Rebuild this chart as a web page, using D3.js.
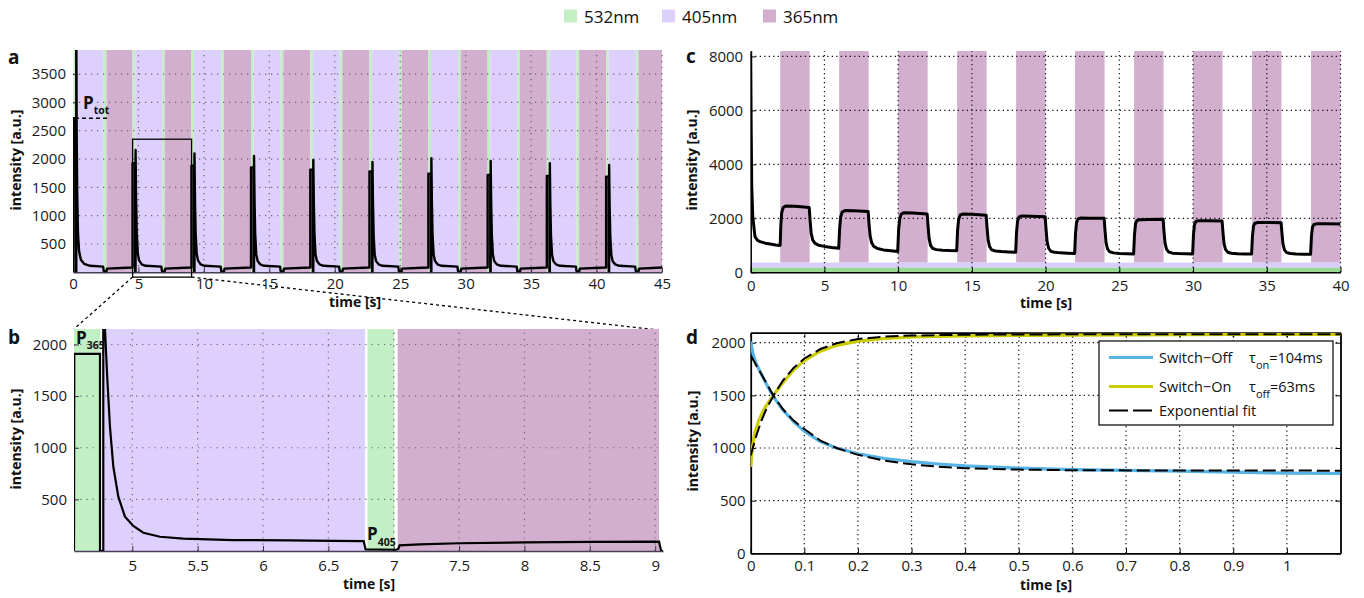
<!DOCTYPE html>
<html>
<head>
<meta charset="utf-8">
<script src="https://cdn.jsdelivr.net/npm/d3@7"></script>
<style>
  body { margin: 0; background: #fff; }
  svg text { font-family: "Open Sans", "Noto Sans", sans-serif; }
</style>
</head>
<body>
<svg id="fig" width="1364" height="598"></svg>
<script>
// ---------- data ----------
const legendLabels = ["532nm", "405nm", "365nm"];
const legendKeys = [532, 405, 365];
const bandColor = { 532: "#c2efc4", 405: "#ddd0fd", 365: "#d3afcf" };

// panel a: start of each 532nm read-out pulse; the phases in between alternate 405 / 365
const aGreenStarts = [0.03, 2.35, 4.55, 6.8, 9.05, 11.33, 13.6, 15.87, 18.13, 20.38,
                      22.65, 24.9, 27.15, 29.42, 31.68, 33.95, 36.2, 38.47, 40.73, 43.0];
const aGreenLen = 0.2;
const aXTicks = [0, 5, 10, 15, 20, 25, 30, 35, 40, 45];
const aYTicks = [500, 1000, 1500, 2000, 2500, 3000, 3500];
const aTrace = [
  [0,0],[0.02,2720],[0.2,2720],[0.2,0],[0.25,0],[0.25,4300],[0.28,2500],[0.32,1400],[0.38,700],[0.46,380],[0.6,220],[0.85,150],[1.3,115],[2.3,100],[2.35,15],[2.55,15],[2.6,65],[4.5,85],
  [4.55,85],[4.55,1925],[4.75,1925],[4.75,0],[4.78,0],[4.78,2160],[4.82,1300],[4.87,700],[4.95,330],[5.05,210],[5.25,140],[5.55,115],[6.75,100],[6.8,15],[7.0,15],[7.05,65],[9.0,85],
  [9.05,85],[9.05,1880],[9.25,1880],[9.25,0],[9.28,0],[9.28,2100],[9.32,1280],[9.37,690],[9.45,330],[9.55,210],[9.75,140],[10.05,115],[11.28,100],[11.33,15],[11.53,15],[11.58,65],[13.55,85],
  [13.6,85],[13.6,1850],[13.8,1850],[13.8,0],[13.83,0],[13.83,2055],[13.87,1250],[13.92,680],[14.0,320],[14.1,205],[14.3,140],[14.6,115],[15.82,100],[15.87,15],[16.07,15],[16.12,65],[18.08,85],
  [18.13,85],[18.13,1810],[18.33,1810],[18.33,0],[18.36,0],[18.36,1985],[18.4,1220],[18.45,660],[18.53,320],[18.63,205],[18.83,140],[19.13,115],[20.33,100],[20.38,15],[20.58,15],[20.63,65],[22.6,85],
  [22.65,85],[22.65,1780],[22.85,1780],[22.85,0],[22.88,0],[22.88,1950],[22.92,1200],[22.97,650],[23.05,315],[23.15,200],[23.35,140],[23.65,115],[24.85,100],[24.9,15],[25.1,15],[25.15,65],[27.1,85],
  [27.15,85],[27.15,1740],[27.35,1740],[27.35,0],[27.38,0],[27.38,2015],[27.42,1230],[27.47,670],[27.55,320],[27.65,205],[27.85,140],[28.15,115],[29.37,100],[29.42,15],[29.62,15],[29.67,65],[31.63,85],
  [31.68,85],[31.68,1720],[31.88,1720],[31.88,0],[31.91,0],[31.91,1965],[31.95,1200],[32.0,655],[32.08,315],[32.18,200],[32.38,140],[32.68,115],[33.9,100],[33.95,15],[34.15,15],[34.2,65],[36.15,85],
  [36.2,85],[36.2,1700],[36.4,1700],[36.4,0],[36.43,0],[36.43,1925],[36.47,1180],[36.52,640],[36.6,310],[36.7,200],[36.9,140],[37.2,115],[38.42,100],[38.47,15],[38.67,15],[38.72,65],[40.68,85],
  [40.73,85],[40.73,1690],[40.93,1690],[40.93,0],[40.96,0],[40.96,1895],[41.0,1160],[41.05,630],[41.13,305],[41.23,195],[41.43,140],[41.73,115],[42.95,100],[43.0,15],[43.2,15],[43.25,65],[45,85]
];
const aPtot = 2720;
const aPtotSpan = [0.15, 2.65];
const zoomTime = [4.554, 9.06];
const zoomIntensity = [-85, 2350];

// panel b: zoom on one cycle
const bBands = [[4.554, 4.755, 532], [4.775, 6.78, 405], [6.80, 7.005, 532], [7.03, 9.03, 365]];
const bXTicks = [5, 5.5, 6, 6.5, 7, 7.5, 8, 8.5, 9];
const bYTicks = [500, 1000, 1500, 2000];
const bTrace = [
  [4.554,0],[4.556,1910],[4.753,1910],[4.753,0],[4.778,0],[4.778,2400],[4.791,2150],[4.808,1687],
  [4.829,1203],[4.855,816],[4.893,526],[4.944,332],[5.008,242],[5.084,177],[5.212,138],[5.39,119],
  [5.77,106],[6.2,102],[6.54,98],[6.77,95],[6.785,16],[7.02,12],[7.035,20],[7.045,55],[7.2,65],
  [7.5,75],[8.0,84],[8.5,89],[9.03,90],[9.045,0],[9.07,0]
];

// panel c: 365nm pulses on top of continuous 405 / 532
const cUvStarts = [2, 6, 10, 14, 18, 22, 26, 30, 34, 38];
const cUvLen = 2;
const cStrips = [[0, 180, 532], [180, 360, 405]];
const cXTicks = [0, 5, 10, 15, 20, 25, 30, 35, 40];
const cYTicks = [0, 2000, 4000, 6000, 8000];
const cTrace = [
  [0,8200],[0.03,5500],[0.07,3200],[0.14,2060],[0.29,1320],[0.45,1190],[0.63,1135],[1.0,1080],[1.31,1050],[1.7,1010],[1.97,990],
  [2.0,1000],[2.04,1700],[2.1,2200],[2.2,2400],[2.4,2460],[3.0,2450],[3.6,2420],[3.97,2400],
  [4.03,1900],[4.1,1450],[4.2,1200],[4.35,1080],[4.6,1000],[5.0,960],[5.5,920],[5.97,890],
  [6.03,1600],[6.1,2050],[6.2,2230],[6.4,2290],[7.0,2280],[7.97,2250],[8.03,1750],[8.1,1350],[8.2,1100],[8.35,960],[8.6,880],[9.0,830],[9.5,800],[9.97,770],
  [10.03,1550],[10.1,1950],[10.2,2150],[10.4,2210],[11.0,2200],[11.97,2160],[12.03,1700],[12.1,1250],[12.2,1000],[12.35,880],[12.6,840],[13.0,820],[13.5,805],[13.97,800],
  [14.03,1550],[14.1,1950],[14.2,2120],[14.4,2160],[15.0,2150],[15.97,2110],[16.03,1650],[16.1,1200],[16.2,950],[16.35,830],[16.6,790],[17.0,770],[17.5,755],[17.97,740],
  [18.03,1500],[18.1,1900],[18.2,2050],[18.4,2090],[19.0,2080],[19.97,2060],[20.03,1600],[20.1,1150],[20.2,900],[20.35,780],[20.6,740],[21.0,720],[21.5,710],[21.97,700],
  [22.03,1450],[22.1,1850],[22.2,1980],[22.4,2010],[23.0,2000],[23.97,2000],[24.03,1550],[24.1,1100],[24.2,870],[24.35,760],[24.6,720],[25.0,700],[25.5,690],[25.97,680],
  [26.03,1400],[26.1,1800],[26.2,1920],[26.4,1950],[27.0,1960],[27.97,1970],[28.03,1500],[28.1,1080],[28.2,860],[28.35,750],[28.6,710],[29.0,695],[29.5,685],[29.97,680],
  [30.03,1400],[30.1,1780],[30.2,1890],[30.4,1910],[31.0,1910],[31.97,1900],[32.03,1480],[32.1,1060],[32.2,850],[32.35,745],[32.6,705],[33.0,690],[33.5,682],[33.97,680],
  [34.03,1350],[34.1,1720],[34.2,1820],[34.4,1845],[35.0,1845],[35.97,1840],[36.03,1440],[36.1,1040],[36.2,830],[36.35,730],[36.6,695],[37.0,680],[37.5,670],[37.97,665],
  [38.03,1330],[38.1,1680],[38.2,1770],[38.4,1795],[39.0,1795],[40,1790]
];

// panel d: switching kinetics
const dXTicks = [0, 0.1, 0.2, 0.3, 0.4, 0.5, 0.6, 0.7, 0.8, 0.9, 1];
const dYTicks = [0, 500, 1000, 1500, 2000];
const dSwitchOff = [[0,2010],[0.005,1880],[0.01,1800],[0.02,1700],[0.03,1600],[0.042,1490],[0.06,1360],[0.08,1250],[0.1,1160],[0.13,1060],[0.16,1000],[0.2,945],[0.25,900],[0.3,870],[0.35,848],[0.4,830],[0.5,808],[0.6,795],[0.7,788],[0.8,780],[0.9,770],[1.0,762],[1.1,758]];
const dSwitchOn = [[0,820],[0.003,1000],[0.008,1150],[0.015,1260],[0.025,1370],[0.042,1500],[0.06,1620],[0.08,1740],[0.1,1830],[0.13,1920],[0.16,1975],[0.2,2015],[0.25,2040],[0.3,2055],[0.4,2065],[0.5,2070],[0.7,2075],[0.9,2078],[1.1,2080]];
const dFitOff = [[0,1880],[0.02,1700],[0.042,1500],[0.06,1370],[0.08,1260],[0.1,1180],[0.13,1070],[0.16,1000],[0.2,935],[0.25,880],[0.3,845],[0.35,822],[0.4,808],[0.5,795],[0.6,789],[0.8,786],[1.1,785]];
const dFitOn = [[0,930],[0.01,1110],[0.02,1260],[0.03,1380],[0.045,1520],[0.06,1640],[0.08,1760],[0.1,1850],[0.13,1940],[0.16,1995],[0.2,2035],[0.25,2058],[0.3,2068],[0.4,2076],[0.6,2080],[1.1,2080]];
const dLegend = [
  { name: "Switch\u2212Off", sub: "on", val: "=104ms", color: "#55b3e6", dash: null },
  { name: "Switch\u2212On", sub: "off", val: "=63ms", color: "#cccc00", dash: null },
  { name: "Exponential fit", sub: null, val: null, color: "#000", dash: "19,5" }
];

// ---------- drawing ----------
const FONT = '"Open Sans", "Noto Sans", sans-serif';
const svg = d3.select("#fig");

// shared helpers
function clipFor(id, x, y) {
  svg.append("defs").append("clipPath").attr("id", id).append("rect")
    .attr("x", x.range()[0]).attr("y", y.range()[1])
    .attr("width", x.range()[1] - x.range()[0]).attr("height", y.range()[0] - y.range()[1]);
  return `url(#${id})`;
}

function grid(g, x, y, xs, ys, color, dash) {
  const gg = g.append("g").attr("stroke", color).attr("stroke-width", 1.2).attr("stroke-dasharray", dash);
  gg.selectAll(".gx").data(xs).join("line")
    .attr("x1", d => x(d)).attr("x2", d => x(d)).attr("y1", y.range()[0]).attr("y2", y.range()[1]);
  gg.selectAll(".gy").data(ys).join("line")
    .attr("y1", d => y(d)).attr("y2", d => y(d)).attr("x1", x.range()[0]).attr("x2", x.range()[1]);
}

function axes(g, x, y, o) {
  const fmt = o.fmt || (d => String(d));
  const ax = g.append("g").attr("transform", `translate(0,${y.range()[0]})`)
    .call(d3.axisBottom(x).tickValues(o.xt).tickFormat(fmt).tickSizeInner(-5).tickSizeOuter(0).tickPadding(o.xpad));
  const ay = g.append("g").attr("transform", `translate(${x.range()[0]},0)`)
    .call(d3.axisLeft(y).tickValues(o.yt).tickFormat(d => String(d)).tickSizeInner(-5).tickSizeOuter(0).tickPadding(o.ypad));
  [ax, ay].forEach(a => {
    a.attr("font-family", FONT).attr("font-size", 15);
    a.selectAll("text").attr("fill", "#1a1a1a");
    a.selectAll(".tick line").attr("stroke", o.tickColor).attr("stroke-width", 1);
    a.select(".domain").attr("stroke", o.axisColor).attr("stroke-width", o.axisWidth || 1);
  });
  if (o.noLeftLine) ay.select(".domain").remove();
}

function label(text, x, y, opts = {}) {
  const t = svg.append("text").attr("x", x).attr("y", y).text(text)
    .attr("font-size", opts.size || 14).attr("font-weight", opts.weight || "bold")
    .attr("text-anchor", opts.anchor || "middle").attr("fill", "#111");
  if (opts.rotate) t.attr("transform", `rotate(-90,${x},${y})`);
  return t;
}

function pLabel(x, y, sub) {
  const t = svg.append("text").attr("x", x).attr("y", y).attr("font-weight", "bold").attr("fill", "#111");
  t.append("tspan").attr("font-size", 17).text("P");
  t.append("tspan").attr("font-size", 10.5).attr("dy", 5.5).text(sub);
}

const line = (x, y) => d3.line().x(d => x(d[0])).y(d => y(d[1]));

// ---------- top legend ----------
const legX = [564, 662, 763];
legendKeys.forEach((k, i) => {
  svg.append("rect").attr("x", legX[i]).attr("y", 9.5).attr("width", 13).attr("height", 13)
    .attr("fill", bandColor[k]);
  svg.append("text").attr("x", legX[i] + 20).attr("y", 22.5).attr("font-size", 17)
    .attr("fill", "#111").text(legendLabels[i]);
});

// ---------- panel a ----------
{
  const x = d3.scaleLinear().domain([0, 45]).range([73, 662]);
  const y = d3.scaleLinear().domain([0, 3925]).range([272.3, 50]);
  const g = svg.append("g");
  const clip = clipFor("clipA", x, y);

  // bands from the pulse starts
  const bands = [];
  aGreenStarts.forEach((s, k) => {
    bands.push([s, s + aGreenLen, 532]);
    const next = k + 1 < aGreenStarts.length ? aGreenStarts[k + 1] : 45;
    bands.push([s + aGreenLen, next, k % 2 === 0 ? 405 : 365]);
  });
  g.append("g").selectAll("rect").data(bands).join("rect")
    .attr("x", d => x(d[0])).attr("width", d => x(d[1]) - x(d[0]))
    .attr("y", y.range()[1]).attr("height", y.range()[0] - y.range()[1])
    .attr("fill", d => bandColor[d[2]]);

  grid(g, x, y, aXTicks.slice(1), aYTicks, "#6c6478", "1.2,4.8");
  axes(g, x, y, { xt: aXTicks, yt: aYTicks, xpad: 6, ypad: 7, tickColor: "#3b3344", axisColor: "#4a3f58", axisWidth: 1.5, noLeftLine: true });

  g.append("path").datum(aTrace).attr("d", line(x, y)).attr("clip-path", clip)
    .attr("fill", "none").attr("stroke", "#000").attr("stroke-width", 2.4).attr("stroke-linejoin", "round");

  // P_tot level
  g.append("line").attr("x1", x(aPtotSpan[0])).attr("x2", x(aPtotSpan[1]))
    .attr("y1", y(aPtot)).attr("y2", y(aPtot))
    .attr("stroke", "#000").attr("stroke-width", 1.5).attr("stroke-dasharray", "4,3");
  pLabel(83, 108.5, "tot");

  // zoom rectangle
  g.append("rect").attr("x", x(zoomTime[0])).attr("y", y(zoomIntensity[1]))
    .attr("width", x(zoomTime[1]) - x(zoomTime[0])).attr("height", y(zoomIntensity[0]) - y(zoomIntensity[1]))
    .attr("fill", "none").attr("stroke", "#000").attr("stroke-width", 1.3);

  label("intensity [a.u.]", 21, 160, { rotate: true });
  label("time [s]", 355, 306.5);
  label("a", 8, 63.5, { size: 19, anchor: "start" });

  // connectors to panel b
  svg.append("line").attr("x1", x(zoomTime[0])).attr("y1", y(zoomIntensity[0])).attr("x2", 74).attr("y2", 329)
    .attr("stroke", "#000").attr("stroke-width", 1.3).attr("stroke-dasharray", "3,3");
  svg.append("line").attr("x1", x(zoomTime[1])).attr("y1", y(zoomIntensity[0])).attr("x2", 658).attr("y2", 330)
    .attr("stroke", "#000").attr("stroke-width", 1.3).attr("stroke-dasharray", "3,3");
}

// ---------- panel b ----------
{
  const x = d3.scaleLinear().domain([zoomTime[0], zoomTime[1]]).range([74, 663]);
  const y = d3.scaleLinear().domain([0, 2150]).range([551, 329]);
  const g = svg.append("g");
  const clip = clipFor("clipB", x, y);

  g.append("g").selectAll("rect").data(bBands).join("rect")
    .attr("x", d => x(d[0])).attr("width", d => x(d[1]) - x(d[0]))
    .attr("y", y.range()[1]).attr("height", y.range()[0] - y.range()[1])
    .attr("fill", d => bandColor[d[2]]);

  grid(g, x, y, bXTicks, bYTicks, "#6c6478", "1.2,5");
  axes(g, x, y, { xt: bXTicks, yt: bYTicks, xpad: 9, ypad: 7, tickColor: "#3b3344", axisColor: "#4a3f58", axisWidth: 1.5, noLeftLine: true });

  g.append("path").datum(bTrace).attr("d", line(x, y)).attr("clip-path", clip)
    .attr("fill", "none").attr("stroke", "#000").attr("stroke-width", 2.2).attr("stroke-linejoin", "miter");

  pLabel(76, 343.5, "365");
  pLabel(367, 540, "405");

  label("intensity [a.u.]", 21, 439, { rotate: true });
  label("time [s]", 369, 589);
  label("b", 8, 343.5, { size: 19, anchor: "start" });
}

// ---------- panel c ----------
{
  const x = d3.scaleLinear().domain([0, 40]).range([750.7, 1340.5]);
  const y = d3.scaleLinear().domain([0, 8200]).range([272.3, 51]);
  const g = svg.append("g");
  const clip = clipFor("clipC", x, y);

  g.append("g").selectAll("rect").data(cUvStarts).join("rect")
    .attr("x", d => x(d)).attr("width", d => x(d + cUvLen) - x(d))
    .attr("y", y.range()[1]).attr("height", y(cStrips[1][1]) - y.range()[1])
    .attr("fill", bandColor[365]);
  g.append("g").selectAll("rect").data(cStrips).join("rect")
    .attr("x", x.range()[0]).attr("width", x.range()[1] - x.range()[0])
    .attr("y", d => y(d[1])).attr("height", d => y(d[0]) - y(d[1]))
    .attr("fill", d => d[2] === 532 ? "#97d995" : "#d8cdfa");

  grid(g, x, y, cXTicks.slice(1), cYTicks.slice(1), "#111", "1.3,3.2");
  axes(g, x, y, { xt: cXTicks, yt: cYTicks, xpad: 8, ypad: 7.5, tickColor: "#000", axisColor: "#000", axisWidth: 1.5 });

  g.append("path").datum(cTrace).attr("d", line(x, y)).attr("clip-path", clip)
    .attr("fill", "none").attr("stroke", "#000").attr("stroke-width", 3).attr("stroke-linejoin", "round");

  label("intensity [a.u.]", 697, 160, { rotate: true });
  label("time [s]", 1046, 308);
  label("c", 686, 63, { size: 19, anchor: "start" });
}

// ---------- panel d ----------
{
  const x = d3.scaleLinear().domain([0, 1.1]).range([750.7, 1340.5]);
  const y = d3.scaleLinear().domain([0, 2095]).range([553.3, 332.7]);
  const g = svg.append("g");
  const clip = clipFor("clipD", x, y);

  grid(g, x, y, dXTicks.slice(1), dYTicks.slice(1), "#111", "1.3,3.2");
  axes(g, x, y, { xt: dXTicks, yt: dYTicks, xpad: 7, ypad: 5, tickColor: "#000", axisColor: "#000", axisWidth: 1.8,
                  fmt: d => d3.format("~g")(d) });
  // top and right ticks of the box
  g.append("g").attr("transform", `translate(0,${y.range()[1]})`)
    .call(d3.axisTop(x).tickValues(dXTicks).tickFormat("").tickSizeInner(-5).tickSizeOuter(0))
    .call(a => a.select(".domain").attr("stroke-width", 1.8));
  g.append("g").attr("transform", `translate(${x.range()[1]},0)`)
    .call(d3.axisRight(y).tickValues(dYTicks).tickFormat("").tickSizeInner(-5).tickSizeOuter(0))
    .call(a => a.select(".domain").attr("stroke-width", 1.8));

  const lg = g.append("g").attr("clip-path", clip);
  lg.append("path").datum(dSwitchOff).attr("d", line(x, y)).attr("fill", "none")
    .attr("stroke", dLegend[0].color).attr("stroke-width", 3.2);
  lg.append("path").datum(dSwitchOn).attr("d", line(x, y)).attr("fill", "none")
    .attr("stroke", dLegend[1].color).attr("stroke-width", 3.2);
  [dFitOff, dFitOn].forEach(f => lg.append("path").datum(f).attr("d", line(x, y)).attr("fill", "none")
    .attr("stroke", "#000").attr("stroke-width", 2).attr("stroke-dasharray", "13,5"));

  // legend
  const lb = g.append("g");
  lb.append("rect").attr("x", 1099).attr("y", 341).attr("width", 234).attr("height", 84)
    .attr("fill", "#fff").attr("stroke", "#000").attr("stroke-width", 1.2);
  const rowY = [357.5, 386.5, 410.5];
  dLegend.forEach((d, i) => {
    lb.append("line").attr("x1", 1109).attr("x2", 1153).attr("y1", rowY[i]).attr("y2", rowY[i])
      .attr("stroke", d.color).attr("stroke-width", d.dash ? 2.2 : 3.2).attr("stroke-dasharray", d.dash);
    const t = lb.append("text").attr("x", 1159).attr("y", rowY[i] + 5).attr("font-size", 14.5).attr("fill", "#111");
    t.append("tspan").text(d.name);
    if (d.sub) {
      t.append("tspan").attr("x", 1249).text("\u03c4");
      t.append("tspan").attr("dy", 6).attr("font-size", 11).text(d.sub);
      t.append("tspan").attr("dy", -6).text(d.val);
    }
  });

  label("intensity [a.u.]", 698, 441, { rotate: true });
  label("time [s]", 1046, 590);
  label("d", 686, 344, { size: 19, anchor: "start" });
}
</script>
</body>
</html>
